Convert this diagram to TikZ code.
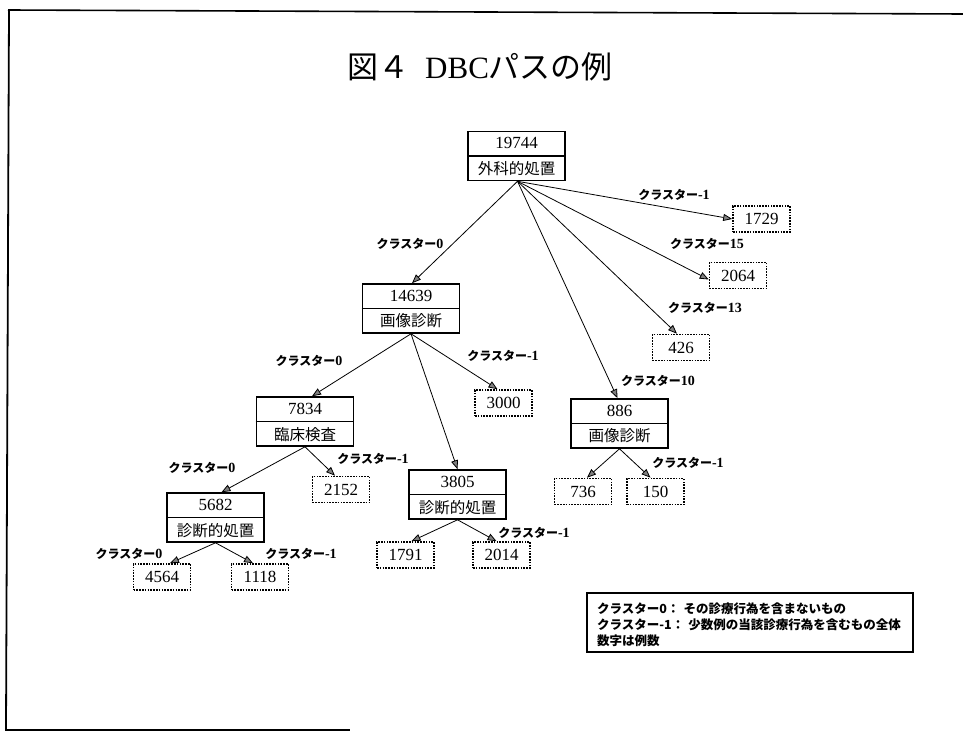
\documentclass[tikz,border=0pt]{standalone}
\usepackage{fontspec}
\setmainfont{Liberation Serif}
\newfontfamily\jp{Noto Sans CJK JP}
\usetikzlibrary{arrows.meta,calc}
\tikzset{
  solidbox/.style={draw, line width=1.6pt, minimum width=97pt, minimum height=49pt, inner sep=0pt},
  dotbox/.style={draw, line width=1.6pt, dash pattern=on 1.6pt off 1.2pt, minimum width=57pt, minimum height=26pt, inner sep=0pt, font=\fontsize{17}{17}\selectfont},
  edge/.style={line width=0.8pt, -{Triangle[length=9pt,width=7pt,fill=gray]}},
  lab/.style={font=\fontsize{12}{12}\selectfont\bfseries, inner sep=0pt},
  numtext/.style={font=\fontsize{17}{17}\selectfont, inner sep=0pt},
  jptext/.style={font=\jp\fontsize{15.5}{15.5}\selectfont, inner sep=0pt},
}
\newcommand\dbcbox[5]{%
  \node[solidbox] (#1) at (#2,#3) {};
  \draw[line width=1.2pt] (#1.west) -- (#1.east);
  \node[numtext] (#1n) at ($(#1.center)!0.5!(#1.north)$) {#4};
  \node[jptext] (#1l) at ($(#1.center)!0.5!(#1.south)$) {#5};
}
\newcommand\clab[1]{{\jp\bfseries クラスター}{\fontsize{14}{14}\selectfont #1}}
\begin{document}
\begin{tikzpicture}[x=1pt,y=-1pt]
\useasboundingbox (0,0) rectangle (963,733);
% frame
\draw[line width=1.6pt] (8,10) -- (963,14);
\draw[line width=1.8pt] (9,10) -- (6,730);
\draw[line width=1.6pt] (5,730) -- (350,730);
% title
\node[anchor=west, inner sep=0pt, font=\fontsize{31}{31}\selectfont] (title) at (347,67) {{\jp 図４}\hspace{16pt}DBC{\jp パスの例}};
% main boxes
\dbcbox{root}{516.5}{156}{19744}{外科的処置}
\dbcbox{a}{411}{308.5}{14639}{画像診断}
\dbcbox{b}{305}{421.5}{7834}{臨床検査}
\dbcbox{c}{457.5}{494.5}{3805}{診断的処置}
\dbcbox{d}{215.5}{517.5}{5682}{診断的処置}
\dbcbox{e}{619.5}{423.5}{886}{画像診断}
% dotted boxes
\node[dotbox] (n1729) at (761.5,219) {1729};
\node[dotbox] (n2064) at (738,275.5) {2064};
\node[dotbox] (n426) at (681,347.5) {426};
\node[dotbox] (n3000) at (503.5,403) {3000};
\node[dotbox] (n2152) at (341,489.5) {2152};
\node[dotbox] (n4564) at (162,577) {4564};
\node[dotbox] (n1118) at (260,577) {1118};
\node[dotbox] (n1791) at (405.5,555) {1791};
\node[dotbox] (n2014) at (501.5,555) {2014};
\node[dotbox] (n736) at (583,491.5) {736};
\node[dotbox] (n150) at (655.5,491.5) {150};
% edges
\draw[edge] ([xshift=1pt]root.south) -- (n1729.west);
\draw[edge] ([xshift=1pt]root.south) -- ([yshift=-4pt]n2064.west);
\draw[edge] ([xshift=1pt]root.south) -- ([xshift=-4pt]n426.north);
\draw[edge] ([xshift=1pt]root.south) -- ([xshift=-2pt]e.north);
\draw[edge] ([xshift=1pt]root.south) -- ([xshift=1pt]a.north);
\draw[edge] (a.south) -- ([xshift=7pt]b.north);
\draw[edge] (a.south) -- ([xshift=-6pt]n3000.north);
\draw[edge] (a.south) -- (c.north);
\draw[edge] (b.south) -- ([xshift=6pt]d.north);
\draw[edge] (b.south) -- ([xshift=-6pt]n2152.north);
\draw[edge] (d.south) -- ([xshift=8pt]n4564.north);
\draw[edge] (d.south) -- ([xshift=-7pt]n1118.north);
\draw[edge] (c.south) -- ([xshift=6pt]n1791.north);
\draw[edge] (c.south) -- ([xshift=-5pt]n2014.north);
\draw[edge] (e.south) -- ([xshift=4pt]n736.north);
\draw[edge] (e.south) -- ([xshift=-5pt]n150.north);
% edge labels
\node[lab] (l1) at (674,195) {\clab{-1}};
\node[lab] (l2) at (707,244) {\clab{15}};
\node[lab] (l3) at (410,244) {\clab{0}};
\node[lab] (l4) at (705,308) {\clab{13}};
\node[lab] (l5) at (658,381) {\clab{10}};
\node[lab] (l6) at (688,463) {\clab{-1}};
\node[lab] (l7) at (309,361) {\clab{0}};
\node[lab] (l8) at (503,356) {\clab{-1}};
\node[lab] (l9) at (373,459) {\clab{-1}};
\node[lab] (l10) at (202,468) {\clab{0}};
\node[lab] (l11) at (129,554) {\clab{0}};
\node[lab] (l12) at (301,554) {\clab{-1}};
\node[lab] (l13) at (534,533) {\clab{-1}};
% legend
\node[draw, line width=1.2pt, minimum width=326pt, minimum height=59pt, inner sep=0pt] (legend) at (750,622.5) {};
\node[anchor=north west, inner sep=0pt, align=left, font=\jp\bfseries\fontsize{12.5}{16}\selectfont] (legtext) at (597,603)
  {クラスター0：\hspace{4pt}その診療行為を含まないもの\\クラスター-1：\hspace{4pt}少数例の当該診療行為を含むもの全体\\数字は例数};
\end{tikzpicture}
\end{document}
